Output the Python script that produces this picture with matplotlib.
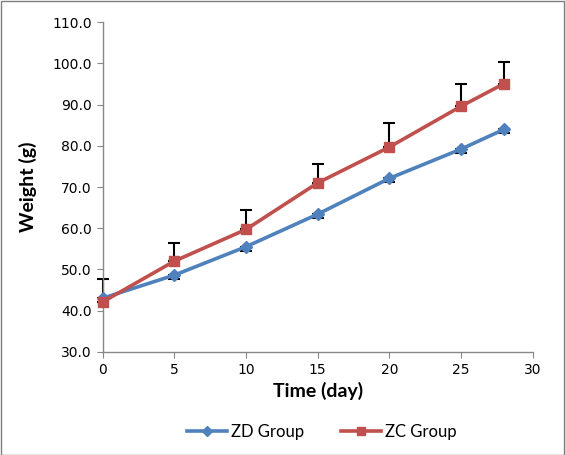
import matplotlib
matplotlib.use('Agg')
from matplotlib import pyplot as plt
from matplotlib.patches import Rectangle
import numpy as np

# data
days = [0, 5, 10, 15, 20, 25, 28]
zd_weight = [43.0, 48.6, 55.5, 63.4, 72.1, 79.2, 84.0]
zd_err = [1.0, 1.0, 1.0, 1.0, 1.0, 1.0, 1.0]
zc_weight = [42.1, 52.0, 59.7, 71.0, 79.7, 89.6, 95.1]
zc_err = [5.5, 4.3, 4.7, 4.5, 5.9, 5.4, 5.3]

BLUE = '#4F81BD'
RED = '#C0504D'
label_font = ['Lato', 'DejaVu Sans']

fig = plt.figure(figsize=(5.65, 4.55), dpi=100)
ax = fig.add_axes([0.1818, 0.227, 0.761, 0.724])

# error bars: ZD only minus, ZC only plus
ax.errorbar(days, zd_weight, yerr=[zd_err, np.zeros(len(zd_err))], fmt='none',
            ecolor='black', elinewidth=1.5, capsize=4, capthick=1.5, zorder=2,
            clip_on=False)
ax.errorbar(days, zc_weight, yerr=[np.zeros(len(zc_err)), zc_err], fmt='none',
            ecolor='black', elinewidth=1.5, capsize=4, capthick=1.5, zorder=2,
            clip_on=False)

ax.plot(days, zd_weight, color=BLUE, lw=2.6, marker='D', ms=6,
        label='ZD Group', zorder=3, clip_on=False)
ax.plot(days, zc_weight, color=RED, lw=2.6, marker='s', ms=7,
        label='ZC Group', zorder=4, clip_on=False)

ax.set_xlim(0, 30)
ax.set_ylim(30, 110)
ax.set_xticks(range(0, 31, 5))
ax.set_yticks(range(30, 111, 10))
ax.set_yticklabels(['{:.1f}'.format(v) for v in range(30, 111, 10)])

for side in ['top', 'right']:
    ax.spines[side].set_visible(False)
for side in ['left', 'bottom']:
    ax.spines[side].set_color('#888888')
    ax.spines[side].set_linewidth(1.0)
ax.tick_params(direction='out', length=4, color='#888888', labelsize=10,
               labelcolor='black', pad=4)

ax.set_xlabel('Time (day)', fontsize=14, fontweight='bold',
              family=label_font, labelpad=4)
ax.set_ylabel('Weight (g)', fontsize=14, fontweight='bold',
              family=label_font, labelpad=11)

leg = fig.legend(loc='center', bbox_to_anchor=(0.57, 0.05), ncol=2,
                 frameon=False, prop={'family': label_font, 'size': 12},
                 handlelength=2.4, columnspacing=2.2, handletextpad=0.25,
                 markerscale=0.8)

# thin grey frame round the whole picture
fig.patches.append(Rectangle((0.001, 0.001), 0.997, 0.997, transform=fig.transFigure,
                             fill=False, edgecolor='#7f7f7f', lw=1.0))

fig.savefig('out.png', dpi=100)
